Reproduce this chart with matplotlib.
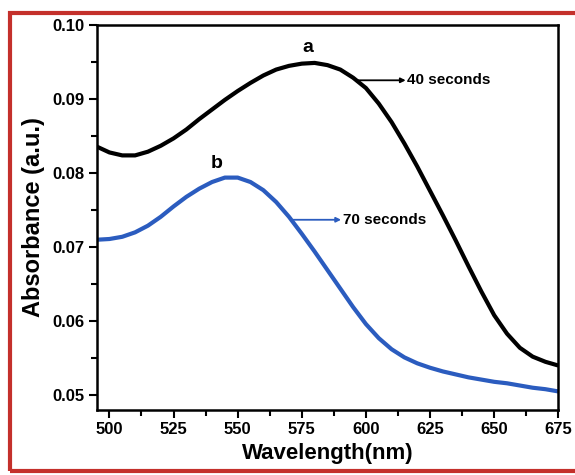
import matplotlib
matplotlib.use("Agg")
import matplotlib.pyplot as plt
from matplotlib.patches import Rectangle
from matplotlib.ticker import MultipleLocator, FormatStrFormatter

plt.rcParams['font.family'] = ['Liberation Sans', 'DejaVu Sans']
plt.rcParams['font.weight'] = 'bold'

# UV-vis absorbance spectra (wavelength in nm)
wavelength = [495, 500, 505, 510, 515, 520, 525, 530, 535, 540, 545, 550,
              555, 560, 565, 570, 575, 580, 585, 590, 595, 600, 605, 610,
              615, 620, 625, 630, 635, 640, 645, 650, 655, 660, 665, 670, 675]

abs_40s = [0.0836, 0.0828, 0.0824, 0.0824, 0.0829, 0.0837, 0.0847, 0.0859,
           0.0873, 0.0886, 0.0899, 0.0911, 0.0922, 0.0932, 0.0940, 0.0945,
           0.0948, 0.0949, 0.0946, 0.0940, 0.0929, 0.0915, 0.0894, 0.0869,
           0.0840, 0.0809, 0.0776, 0.0743, 0.0709, 0.0674, 0.0640, 0.0608,
           0.0583, 0.0564, 0.0552, 0.0545, 0.0540]

abs_70s = [0.0710, 0.0711, 0.0714, 0.0720, 0.0729, 0.0741, 0.0755, 0.0768,
           0.0779, 0.0788, 0.0794, 0.0794, 0.0788, 0.0777, 0.0761, 0.0741,
           0.0718, 0.0694, 0.0669, 0.0644, 0.0619, 0.0596, 0.0577, 0.0562,
           0.0551, 0.0543, 0.0537, 0.0532, 0.0528, 0.0524, 0.0521, 0.0518,
           0.0516, 0.0513, 0.0510, 0.0508, 0.0505]

series_labels = ['40 seconds', '70 seconds']
curve_tags = ['a', 'b']

black = '#000000'
blue = '#2b5cbf'

fig = plt.figure(figsize=(5.75, 4.75), dpi=100)
ax = fig.add_axes([0.168, 0.137, 0.803, 0.810])

for ys, col in ((abs_40s, black), (abs_70s, blue)):
    ax.plot(wavelength, ys, color=col, lw=3.0, solid_capstyle='butt',
            solid_joinstyle='round')

ax.set_xlim(495, 675)
ax.set_ylim(0.048, 0.100)
ax.xaxis.set_major_locator(MultipleLocator(25))
ax.xaxis.set_minor_locator(MultipleLocator(12.5))
ax.yaxis.set_major_locator(MultipleLocator(0.01))
ax.yaxis.set_minor_locator(MultipleLocator(0.005))
ax.yaxis.set_major_formatter(FormatStrFormatter('%.2f'))

ax.tick_params(axis='both', which='major', direction='out', length=6,
               width=1.5, labelsize=12, pad=3)
ax.tick_params(axis='both', which='minor', direction='out', length=4,
               width=1.5)
ax.tick_params(top=False, right=False, which='both')
for lab in ax.get_xticklabels() + ax.get_yticklabels():
    lab.set_fontweight('bold')
for sp in ax.spines.values():
    sp.set_linewidth(1.8)

ax.set_xlabel('Wavelength(nm)', fontsize=16, fontweight='bold', labelpad=4)
ax.set_ylabel('Absorbance (a.u.)', fontsize=17, fontweight='bold', labelpad=5)

# curve tags above the peaks
ax.text(577.5, 0.0970, curve_tags[0], fontsize=14, fontweight='bold',
        ha='center', va='center')
ax.text(541.8, 0.0813, curve_tags[1], fontsize=14, fontweight='bold',
        ha='center', va='center')

# arrow call-outs
ax.annotate('', xy=(615.5, 0.09255), xytext=(596.8, 0.09255),
            arrowprops=dict(arrowstyle='-|>', color=black, lw=1.3,
                            mutation_scale=7, shrinkA=0, shrinkB=0))
ax.text(616.0, 0.09255, series_labels[0], fontsize=11, fontweight='bold',
        ha='left', va='center')
ax.annotate('', xy=(590.3, 0.0737), xytext=(571.7, 0.0737),
            arrowprops=dict(arrowstyle='-|>', color=blue, lw=1.3,
                            mutation_scale=7, shrinkA=0, shrinkB=0))
ax.text(590.9, 0.0737, series_labels[1], fontsize=11, fontweight='bold',
        ha='left', va='center')

# red frame around the figure
frame = Rectangle((10 / 575, 4 / 475), 1.02, 458 / 475,
                  transform=fig.transFigure, fill=False,
                  edgecolor='#c4302b', lw=3.0, clip_on=False)
fig.patches.append(frame)

fig.savefig('out.png', dpi=100)
